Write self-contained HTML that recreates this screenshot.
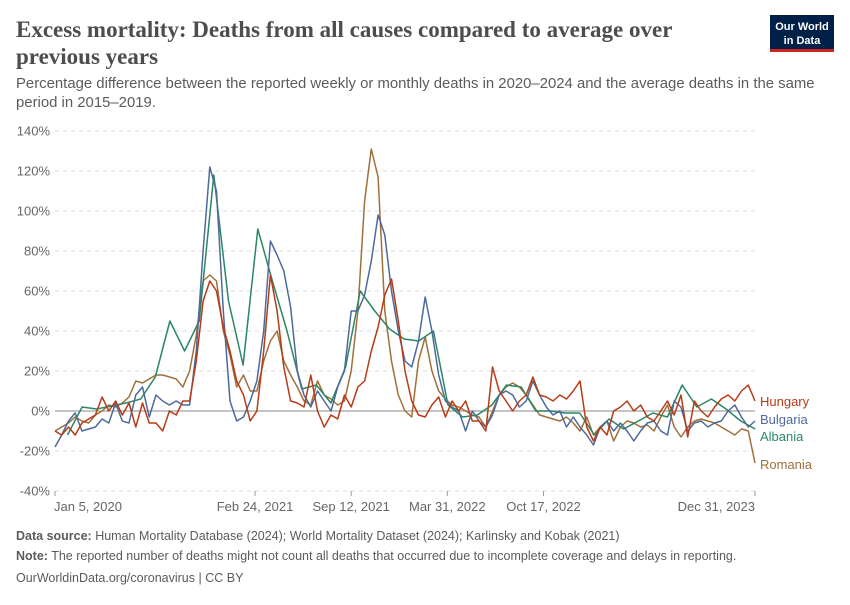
<!DOCTYPE html>
<html><head><meta charset="utf-8"><style>
body{margin:0;background:#fff;width:850px;height:600px;overflow:hidden;font-family:"Liberation Sans",sans-serif}
svg text{font-family:"Liberation Sans",sans-serif}
</style></head><body>
<svg id="chart" width="850" height="600" viewBox="0 0 850 600">
<text x="16" y="37" font-family="Liberation Serif" font-weight="bold" font-size="23" fill="#4d4d4d" style="font-family:'Liberation Serif',serif">Excess mortality: Deaths from all causes compared to average over</text>
<text x="16" y="64" font-size="23" font-weight="bold" fill="#4d4d4d" style="font-family:'Liberation Serif',serif">previous years</text>
<text x="16" y="88" font-size="14.9" fill="#5b5b5b">Percentage difference between the reported weekly or monthly deaths in 2020–2024 and the average deaths in the same</text>
<text x="16" y="107" font-size="14.9" fill="#5b5b5b">period in 2015–2019.</text>
<g>
<rect x="770" y="15" width="64" height="37" fill="#002147"/>
<rect x="770" y="49" width="64" height="3" fill="#ce261e"/>
<text x="802" y="30" font-size="11" fill="#fff" text-anchor="middle" font-weight="bold">Our World</text>
<text x="802" y="44" font-size="11" fill="#fff" text-anchor="middle" font-weight="bold">in Data</text>
</g>
<g id="grid"></g><g id="xaxis"></g><g id="series"></g><g id="legend"></g>
<text x="16" y="540" font-size="12.5" fill="#5b5b5b"><tspan font-weight="bold">Data source:</tspan> Human Mortality Database (2024); World Mortality Dataset (2024); Karlinsky and Kobak (2021)</text>
<text x="16" y="560" font-size="12.5" fill="#5b5b5b"><tspan font-weight="bold">Note:</tspan> The reported number of deaths might not count all deaths that occurred due to incomplete coverage and delays in reporting.</text>
<text x="16" y="582" font-size="12.5" fill="#5b5b5b">OurWorldinData.org/coronavirus | CC BY</text>
</svg>
<script>
const yTicks=[-40,-20,0,20,40,60,80,100,120,140];
const xTickLabels=["Jan 5, 2020","Feb 24, 2021","Sep 12, 2021","Mar 31, 2022","Oct 17, 2022","Dec 31, 2023"];
const xTickDays=[0,416,616,816,1016,1456];
const countries=["Hungary","Bulgaria","Albania","Romania"];
// weekly series sampled every 2 weeks (day = 14*i)
const hungary=[-10,-12,-8,-12,-6,-4,-2,7,0,5, -2,4,-8,4,-6,-6,-10,0,-2,5, 5,25,55,65,60,42,30,15,8,-5, 0,30,68,50,22,5,4,2,18,0, -8,-2,-4,8,2,12,15,30,42,58, 66,45,20,5,-2,-3,3,7,-3,5, 0,5,-5,-5,-10,22,10,5,0,5, 8,17,8,7,5,8,6,10,15,-8, -15,-8,-12,0,2,5,0,3,-3,-5, 0,5,-2,8,-13,5,0,-3,2,6, 8,5,10,13,5];
const bulgaria=[-18,-12,-5,-1,-10,-9,-8,-4,-6,4, -5,-6,8,12,-3,8,5,3,5,3, 3,30,80,122,110,50,5,-5,-3,5, 15,40,85,78,70,52,20,8,2,10, 5,0,12,20,50,50,58,75,98,88, 60,40,25,22,35,57,40,18,5,2, 0,-10,0,-5,-8,-2,8,10,8,2, 5,15,8,2,-2,0,-8,-3,-8,-12, -17,-8,-5,-10,-6,-10,-15,-10,-6,-5, -10,-12,5,2,-10,-6,-5,-8,-6,-5, 0,3,-3,-8,-5];
const romania=[-10,-8,-6,-3,-5,-6,-2,0,3,2, 4,7,15,14,16,18,18,17,16,12, 20,38,65,68,65,40,28,12,18,10, 10,25,35,40,25,18,12,5,3,15, 8,6,3,5,20,50,105,131,117,50, 25,8,0,-3,25,37,20,10,6,3, 2,0,-2,-3,-8,0,8,12,14,12, 8,3,-2,-3,-4,-5,-3,-6,-10,-3, -12,-8,-5,-15,-8,-5,-6,-8,-7,-10, -3,3,-8,-13,-8,-5,-4,-5,-6,-8, -10,-12,-9,-10,-26];
// monthly series (day = 26 + 30.44*m)
const albania=[-12,2,1,2.5,4,6,17,45,30,45, 118,55,23,91,65,40,11,13,4,22, 60,50,41,36,35,40,3,-3,-2,3, 13,12,0,0,-1,-1,-12,-4,-9,-5, -1,-3,13,2,6,1,-5,-9];
const colors={Hungary:"#b73b16",Bulgaria:"#4c6a9c",Albania:"#2a8763",Romania:"#a06f3b"};
const legendY={Hungary:406,Bulgaria:424,Albania:441,Romania:469};

const X0=55,X1=755,TOTAL=1456,Y0=411,PX=2;
const xs=d=>X0+d/TOTAL*(X1-X0);
const ys=v=>Y0-v*PX;
const NS="http://www.w3.org/2000/svg";
function mk(tag,attrs,parent){const e=document.createElementNS(NS,tag);for(const k in attrs)e.setAttribute(k,attrs[k]);parent.appendChild(e);return e;}
const grid=document.getElementById('grid');
yTicks.forEach(t=>{
  const l=mk('line',{x1:X0,x2:X1,y1:ys(t),y2:ys(t),stroke:t===0?'#a0a0a0':'#dddddd','stroke-width':t===0?1.2:1,'stroke-dasharray':t===0?'none':'4,4'},grid);
  
  
  const tx=mk('text',{x:50,y:ys(t)+4.5,'text-anchor':'end','font-size':13,fill:'#666'},grid);
  tx.textContent=t+'%';
  
  
});
const xa=document.getElementById('xaxis');
xTickLabels.forEach((lab,i)=>{
  const x=xs(xTickDays[i]);
  const tk=mk('line',{x1:x,x2:x,y1:491,y2:496,stroke:'#999'},xa);
  
  
  const anchor=i===0?'start':(i===xTickLabels.length-1?'end':'middle');
  const tx=mk('text',{x:i===0?x-1:x,y:511,'text-anchor':anchor,'font-size':13,fill:'#666'},xa);
  tx.textContent=lab;
  
  
});
const sg=document.getElementById('series');
function draw(name,vals,dayFn){
  const pts=vals.map((v,i)=>xs(dayFn(i)).toFixed(1)+','+ys(v).toFixed(1)).join(' ');
  const p=mk('polyline',{points:pts,fill:'none',stroke:colors[name],'stroke-width':1.5,'stroke-linejoin':'round'},sg);
  
  
}
draw('Romania',romania,i=>i*14);
draw('Albania',albania,i=>26+30.44*i);
draw('Bulgaria',bulgaria,i=>i*14);
draw('Hungary',hungary,i=>i*14);
const lg=document.getElementById('legend');
countries.forEach(c=>{
  const t=mk('text',{x:760,y:legendY[c],'font-size':13,fill:colors[c]},lg);
  t.textContent=c;
  
  
});
</script>
</body></html>
